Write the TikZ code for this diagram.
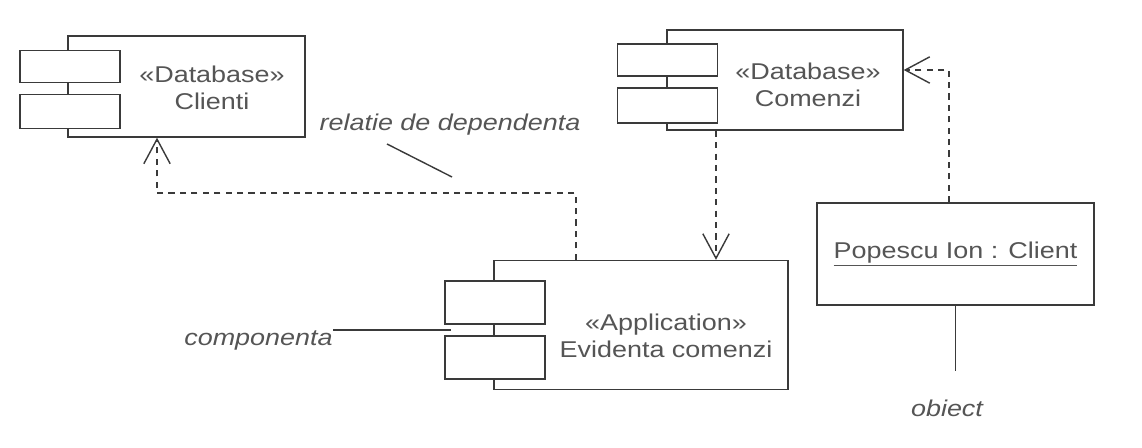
\documentclass[tikz,border=0pt]{standalone}
\usepackage{fontspec}
\setmainfont[FakeStretch=1.18]{Liberation Sans}
\usepackage{tikz}
\usetikzlibrary{arrows.meta,calc}

\definecolor{inkgray}{HTML}{3A3A3A}
\definecolor{txtgray}{HTML}{555555}
\newcommand{\umlsize}{\fontsize{13}{15.3}\selectfont}

\tikzset{
  comp/.style={draw=inkgray,line width=0.8pt,fill=white,inner sep=0pt},
  port/.style={draw=inkgray,line width=0.8pt,fill=white,inner sep=0pt,minimum width=2cm},
  comptext/.style={align=center,text=txtgray,inner sep=0pt},
  objbox/.style={draw=inkgray,line width=0.8pt,inner sep=0pt,minimum width=5.54cm,minimum height=2.04cm},
  dep/.style={draw=inkgray,line width=0.8pt,dash pattern=on 3.5pt off 3pt,
    -{Straight Barb[length=14pt,width=15pt,line width=0.8pt]}},
  note/.style={draw=inkgray,line width=0.8pt},
  notetext/.style={text=txtgray,font=\umlsize\itshape,inner sep=0pt}
}

\begin{document}
\begin{tikzpicture}[x=0.02cm,y=-0.02cm,font=\umlsize]
\useasboundingbox (0,0) rectangle (1142,448);
% components
\node[comp,minimum width=4.74cm,minimum height=2.02cm] (clienti) at (186.5,86.5) {};
\node[port,minimum height=0.64cm] (clientiA) at (70,66.5) {};
\node[port,minimum height=0.68cm] (clientiB) at (70,111.5) {};
\node[comptext] (clientiTxt) at (212,88) {«Database»\\Clienti};

\node[comp,minimum width=4.72cm,minimum height=2.0cm] (comenzi) at (785,80) {};
\node[port,minimum height=0.64cm] (comenziA) at (667.5,60) {};
\node[port,minimum height=0.7cm] (comenziB) at (667.5,105.5) {};
\node[comptext] (comenziTxt) at (808,85) {«Database»\\Comenzi};

\node[comp,minimum width=5.88cm,minimum height=2.58cm] (app) at (641,325) {};
\node[port,minimum height=0.86cm] (appA) at (495,302.5) {};
\node[port,minimum height=0.86cm] (appB) at (495,357.5) {};
\node[comptext] (appTxt) at (666,336) {«Application»\\Evidenta comenzi};

% object
\node[objbox,text=txtgray] (popescu) at (955.5,254) {\underline{Popescu Ion : Client}};

% dependencies
\coordinate (bend1) at (576,193);
\coordinate (bend2) at (157,193);
\draw[dep] (bend1 |- app.north) -- (bend1) -- (bend2) -- (bend2 |- clienti.south);
\coordinate (drop) at (716,200);
\draw[dep] (drop |- comenzi.south) -- (drop |- app.north);
\coordinate (bend3) at (949,70);
\draw[dep] (bend3 |- popescu.north) -- (bend3) -- (comenzi.east |- bend3);

% notes
\node[notetext] (relatie) at (450,125) {relatie de dependenta};
\coordinate (relend) at (452,177);
\draw[note] ($(relatie.south)+(-63,8)$) -- (relend);
\node[notetext,anchor=east] (componenta) at (333,340) {componenta};
\coordinate (compend) at (451,330);
\draw[note] (compend -| componenta.east) -- (compend);
\node[notetext] (obiect) at (947,408) {obiect};
\draw[note] (popescu.south) -- ++(0,65);
\end{tikzpicture}
\end{document}
